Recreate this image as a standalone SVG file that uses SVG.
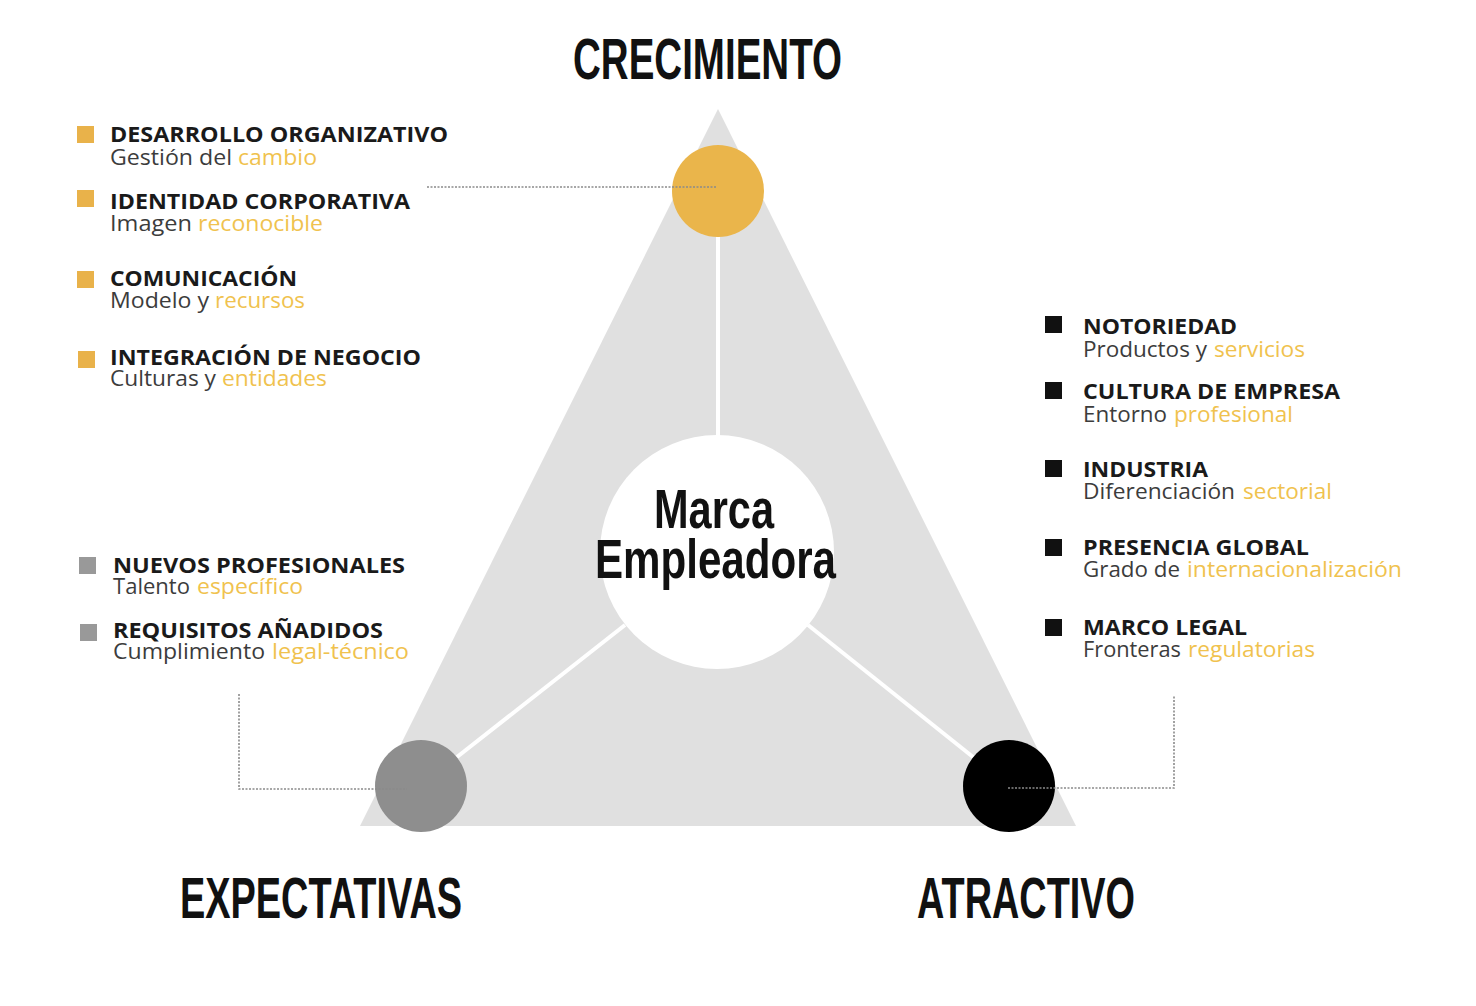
<svg xmlns="http://www.w3.org/2000/svg" width="1476" height="1006" viewBox="0 0 1476 1006">
<style>
  .title{font-family:"Liberation Sans Narrow","Liberation Sans",Arial,sans-serif;font-weight:bold;fill:#111;}
  .hd{font-family:"Open Sans","Noto Sans",sans-serif;font-weight:bold;font-size:22px;fill:#1a1a1a;}
  .sb{font-family:"Open Sans","Noto Sans",sans-serif;font-size:21px;fill:#3c3c3c;}
  .yl{fill:#F0C24E;}
  .sqY{fill:#E9B24A;}
  .sqK{fill:#111;}
  .sqG{fill:#999;}
  .wline{stroke:#fff;stroke-width:4;fill:none;}
  .dot{stroke:#8a8a8a;stroke-width:1.6;stroke-dasharray:2 1.5;fill:none;}
</style>
<rect width="1476" height="1006" fill="#fff"/>

<g id="triangle">
  <polygon points="718,109 360,826 1076,826" fill="#E0E0E0"/>
</g>

<g id="node-crecimiento">
  <circle cx="718" cy="191" r="46" fill="#EAB54B"/>
  <text class="title" x="573" y="79" font-size="58" textLength="269" lengthAdjust="spacingAndGlyphs">CRECIMIENTO</text>
</g>
<g id="node-expectativas">
  <circle cx="421" cy="786" r="46" fill="#8E8E8E"/>
  <text class="title" x="180" y="918" font-size="58" textLength="282" lengthAdjust="spacingAndGlyphs">EXPECTATIVAS</text>
</g>
<g id="node-atractivo">
  <circle cx="1009" cy="786" r="46" fill="#000"/>
  <text class="title" x="917" y="918" font-size="58" textLength="218" lengthAdjust="spacingAndGlyphs">ATRACTIVO</text>
</g>
<g id="node-marca">
  <circle cx="717" cy="552" r="117" fill="#fff"/>
  <text class="title" x="654" y="528" font-size="56" textLength="120" lengthAdjust="spacingAndGlyphs">Marca</text>
  <text class="title" x="595" y="578" font-size="56" textLength="241" lengthAdjust="spacingAndGlyphs">Empleadora</text>
</g>

<g id="connectors">
  <line class="wline" x1="718" y1="237" x2="718" y2="436"/>
  <line class="wline" x1="625" y1="625" x2="457" y2="757"/>
  <line class="wline" x1="808" y1="625" x2="973" y2="757"/>
  <polyline class="dot" points="427,187 716,187"/>
  <polyline class="dot" points="239,694 239,789 407,789"/>
  <polyline class="dot" points="1008,788 1174,788 1174,695"/>
</g>

<g id="list-crecimiento">
  <g id="item-desarrollo">
    <rect class="sqY" x="77" y="126" width="17" height="17"/>
    <text class="hd" x="110" y="142" textLength="338" lengthAdjust="spacingAndGlyphs">DESARROLLO ORGANIZATIVO</text>
    <text class="sb" x="110" y="165"><tspan textLength="122" lengthAdjust="spacingAndGlyphs">Gestión del</tspan> <tspan class="yl" x="238" textLength="79" lengthAdjust="spacingAndGlyphs">cambio</tspan></text>
  </g>
  <g id="item-identidad">
    <rect class="sqY" x="77" y="190" width="17" height="17"/>
    <text class="hd" x="110" y="209" textLength="300" lengthAdjust="spacingAndGlyphs">IDENTIDAD CORPORATIVA</text>
    <text class="sb" x="110" y="231"><tspan textLength="82" lengthAdjust="spacingAndGlyphs">Imagen</tspan> <tspan class="yl" x="198" textLength="125" lengthAdjust="spacingAndGlyphs">reconocible</tspan></text>
  </g>
  <g id="item-comunicacion">
    <rect class="sqY" x="77" y="271" width="17" height="17"/>
    <text class="hd" x="110" y="286" textLength="187" lengthAdjust="spacingAndGlyphs">COMUNICACIÓN</text>
    <text class="sb" x="110" y="308"><tspan textLength="99" lengthAdjust="spacingAndGlyphs">Modelo y</tspan> <tspan class="yl" x="215" textLength="90" lengthAdjust="spacingAndGlyphs">recursos</tspan></text>
  </g>
  <g id="item-integracion">
    <rect class="sqY" x="78" y="351" width="17" height="17"/>
    <text class="hd" x="110" y="365" textLength="311" lengthAdjust="spacingAndGlyphs">INTEGRACIÓN DE NEGOCIO</text>
    <text class="sb" x="110" y="386"><tspan textLength="106" lengthAdjust="spacingAndGlyphs">Culturas y</tspan> <tspan class="yl" x="222" textLength="105" lengthAdjust="spacingAndGlyphs">entidades</tspan></text>
  </g>
</g>

<g id="list-atractivo">
  <g id="item-notoriedad">
    <rect class="sqK" x="1045" y="316" width="17" height="17"/>
    <text class="hd" x="1083" y="334" textLength="154" lengthAdjust="spacingAndGlyphs">NOTORIEDAD</text>
    <text class="sb" x="1083" y="357"><tspan textLength="124" lengthAdjust="spacingAndGlyphs">Productos y</tspan> <tspan class="yl" x="1214" textLength="91" lengthAdjust="spacingAndGlyphs">servicios</tspan></text>
  </g>
  <g id="item-cultura">
    <rect class="sqK" x="1045" y="382" width="17" height="17"/>
    <text class="hd" x="1083" y="399" textLength="257" lengthAdjust="spacingAndGlyphs">CULTURA DE EMPRESA</text>
    <text class="sb" x="1083" y="422"><tspan textLength="84" lengthAdjust="spacingAndGlyphs">Entorno</tspan> <tspan class="yl" x="1174" textLength="119" lengthAdjust="spacingAndGlyphs">profesional</tspan></text>
  </g>
  <g id="item-industria">
    <rect class="sqK" x="1045" y="460" width="17" height="17"/>
    <text class="hd" x="1083" y="477" textLength="125" lengthAdjust="spacingAndGlyphs">INDUSTRIA</text>
    <text class="sb" x="1083" y="499"><tspan textLength="152" lengthAdjust="spacingAndGlyphs">Diferenciación</tspan> <tspan class="yl" x="1243" textLength="89" lengthAdjust="spacingAndGlyphs">sectorial</tspan></text>
  </g>
  <g id="item-presencia">
    <rect class="sqK" x="1045" y="539" width="17" height="17"/>
    <text class="hd" x="1083" y="555" textLength="226" lengthAdjust="spacingAndGlyphs">PRESENCIA GLOBAL</text>
    <text class="sb" x="1083" y="577"><tspan textLength="97" lengthAdjust="spacingAndGlyphs">Grado de</tspan> <tspan class="yl" x="1187" textLength="215" lengthAdjust="spacingAndGlyphs">internacionalización</tspan></text>
  </g>
  <g id="item-marco">
    <rect class="sqK" x="1045" y="619" width="17" height="17"/>
    <text class="hd" x="1083" y="635" textLength="164" lengthAdjust="spacingAndGlyphs">MARCO LEGAL</text>
    <text class="sb" x="1083" y="657"><tspan textLength="98" lengthAdjust="spacingAndGlyphs">Fronteras</tspan> <tspan class="yl" x="1188" textLength="127" lengthAdjust="spacingAndGlyphs">regulatorias</tspan></text>
  </g>
</g>

<g id="list-expectativas">
  <g id="item-nuevos">
    <rect class="sqG" x="79" y="557" width="17" height="17"/>
    <text class="hd" x="113" y="573" textLength="292" lengthAdjust="spacingAndGlyphs">NUEVOS PROFESIONALES</text>
    <text class="sb" x="113" y="594"><tspan textLength="77" lengthAdjust="spacingAndGlyphs">Talento</tspan> <tspan class="yl" x="197" textLength="106" lengthAdjust="spacingAndGlyphs">específico</tspan></text>
  </g>
  <g id="item-requisitos">
    <rect class="sqG" x="80" y="624" width="17" height="17"/>
    <text class="hd" x="113" y="638" textLength="270" lengthAdjust="spacingAndGlyphs">REQUISITOS AÑADIDOS</text>
    <text class="sb" x="113" y="659"><tspan textLength="152" lengthAdjust="spacingAndGlyphs">Cumplimiento</tspan> <tspan class="yl" x="272" textLength="137" lengthAdjust="spacingAndGlyphs">legal-técnico</tspan></text>
  </g>
</g>
</svg>
